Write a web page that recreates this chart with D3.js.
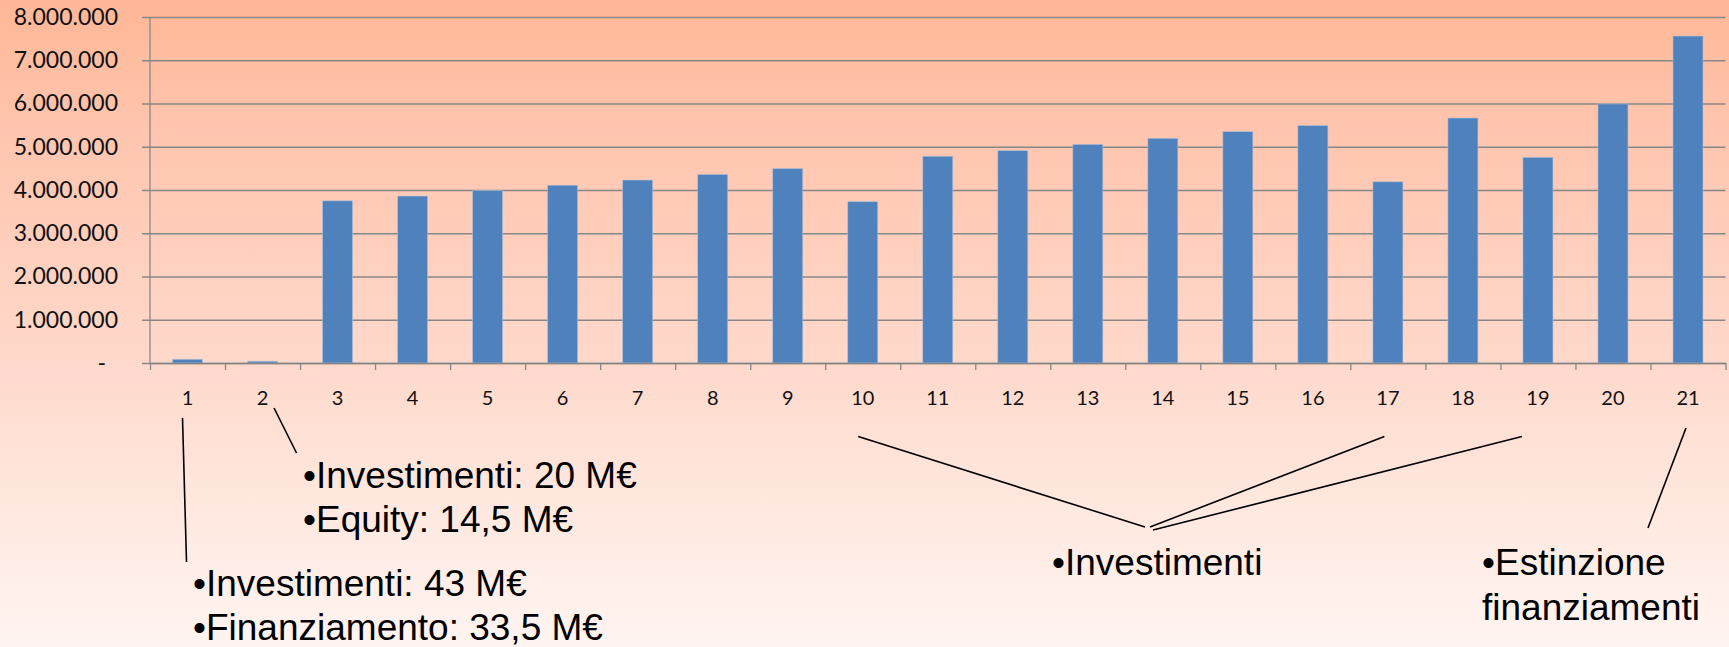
<!DOCTYPE html>
<html>
<head>
<meta charset="utf-8">
<script src="https://cdn.jsdelivr.net/npm/d3@7"></script>
<style>
  html, body { margin: 0; padding: 0; overflow: hidden; background: #fff4f0; }
  svg { display: block; }
</style>
</head>
<body>
<svg id="chart" width="1729" height="647"></svg>
<script>
// Yearly cash flow (EUR), years 1..21
const categories = ["1", "2", "3", "4", "5", "6", "7", "8", "9", "10", "11",
                    "12", "13", "14", "15", "16", "17", "18", "19", "20", "21"];
const cashFlow = [85000, 40000, 3750000, 3860000, 3985000, 4110000, 4230000,
                  4360000, 4495000, 3730000, 4780000, 4910000, 5055000, 5195000,
                  5350000, 5490000, 4190000, 5665000, 4755000, 5990000, 7560000];
const yTickValues = [0, 1000000, 2000000, 3000000, 4000000, 5000000, 6000000, 7000000, 8000000];

// Callout texts
const noteYear1 = ["•Investimenti: 43 M€", "•Finanziamento: 33,5 M€"];
const noteYear2 = ["•Investimenti: 20 M€", "•Equity: 14,5 M€"];
const noteInvest = ["•Investimenti"];
const noteInvestYears = ["10", "17", "19"];
const noteEnd = ["•Estinzione", "finanziamenti"];

const W = 1729, H = 647;
const plot = { left: 150, right: 1725.5, top: 17, bottom: 363 };

const svg = d3.select("#chart");

// Background: salmon fading to pale pink
const defs = svg.append("defs");
const grad = defs.append("linearGradient")
  .attr("id", "bg").attr("x1", 0).attr("y1", 0).attr("x2", 0).attr("y2", 1);
[[0, "#ffb796"], [0.2, "#ffc5ae"], [0.58, "#ffdacd"], [0.78, "#ffe8df"], [1, "#fff4f1"]]
  .forEach(([o, c]) => grad.append("stop").attr("offset", o).attr("stop-color", c));
svg.append("rect").attr("width", W).attr("height", H).attr("fill", "url(#bg)");

const x = d3.scaleBand()
  .domain(categories)
  .range([plot.left, plot.right])
  .paddingInner(0.6)
  .paddingOuter(0.3);

const xEdges = d3.scaleLinear()
  .domain([0, categories.length])
  .range([plot.left, plot.right]);

const y = d3.scaleLinear()
  .domain([0, 8000000])
  .range([plot.bottom, plot.top]);

const itLocale = d3.formatLocale({ decimal: ",", thousands: ".", grouping: [3], currency: ["", " €"] });
const fmt = itLocale.format(",.0f");

const gridColor = "#878787";

// Horizontal gridlines with left tick marks and value labels
const yAxis = svg.append("g")
  .attr("transform", `translate(${plot.right},0)`)
  .call(d3.axisLeft(y)
    .tickValues(yTickValues)
    .tickSize(plot.right - plot.left + 8)
    .tickPadding(24)
    .tickFormat(d => d === 0 ? "-" : fmt(d)));
yAxis.select(".domain").remove();
yAxis.selectAll(".tick line").attr("stroke", gridColor).attr("stroke-width", 1.3);
yAxis.selectAll(".tick text")
  .attr("fill", "#111")
  .style("font-family", "Lato, 'Open Sans', sans-serif")
  .style("font-size", "23px");
yAxis.selectAll(".tick text").filter(d => d === 0).attr("dx", -12);

// Vertical axis line
svg.append("line")
  .attr("x1", plot.left).attr("x2", plot.left)
  .attr("y1", plot.top).attr("y2", plot.bottom)
  .attr("stroke", gridColor).attr("stroke-width", 1.3);

// Bars
svg.append("g")
  .selectAll("rect")
  .data(cashFlow)
  .join("rect")
  .attr("x", (d, i) => x(categories[i]))
  .attr("width", x.bandwidth())
  .attr("y", d => y(d))
  .attr("height", d => y(0) - y(d))
  .attr("fill", "#4f81bd")
  .attr("stroke", "#b3c2d8")
  .attr("stroke-opacity", 0.7)
  .attr("stroke-width", 0.8);

// Category axis: ticks between categories
const xAxis = svg.append("g")
  .attr("transform", `translate(0,${plot.bottom})`)
  .call(d3.axisBottom(xEdges)
    .tickValues(d3.range(0, categories.length + 1))
    .tickSize(7)
    .tickSizeOuter(0)
    .tickFormat(""));
xAxis.selectAll(".domain, .tick line").attr("stroke", gridColor).attr("stroke-width", 1.3);

// Category labels
const xLabels = svg.append("g")
  .attr("transform", `translate(0,${plot.bottom})`)
  .call(d3.axisBottom(x).tickSize(0).tickPadding(28));
xLabels.select(".domain").remove();
xLabels.selectAll(".tick text")
  .attr("fill", "#111")
  .style("font-family", "Lato, 'Open Sans', sans-serif")
  .style("font-size", "20px");

// Callouts
const noteFont = "'Liberation Sans', Arial, sans-serif";
const cx = c => x(c) + x.bandwidth() / 2;

function leader(x1, y1, x2, y2) {
  svg.append("line")
    .attr("x1", x1).attr("y1", y1).attr("x2", x2).attr("y2", y2)
    .attr("stroke", "#000").attr("stroke-width", 1.6);
}
function note(lines, tx, baseline, lineGap) {
  const t = svg.append("text")
    .attr("x", tx).attr("y", baseline)
    .attr("fill", "#000")
    .style("font-family", noteFont)
    .style("font-size", "37px");
  lines.forEach((s, i) => t.append("tspan").attr("x", tx).attr("y", baseline + i * lineGap).text(s));
}

// Year 1
leader(cx("1") - 5, 418, cx("1") - 1, 562);
note(noteYear1, 193, 596, 44);

// Year 2
leader(cx("2") + 11.5, 408, cx("2") + 34, 453);
note(noteYear2, 303, 488, 43.5);

// Investment years
const investTargets = [[1145, 527], [1150, 527], [1153, 530]];
const investDx = [-4.5, -3.5, -16];
noteInvestYears.forEach((c, i) =>
  leader(cx(c) + investDx[i], 436.5, investTargets[i][0], investTargets[i][1]));
note(noteInvest, 1052, 575, 44);

// Year 21
leader(cx("21") - 2, 428, cx("21") - 40, 528);
note(noteEnd, 1482, 575, 45);
</script>
</body>
</html>
